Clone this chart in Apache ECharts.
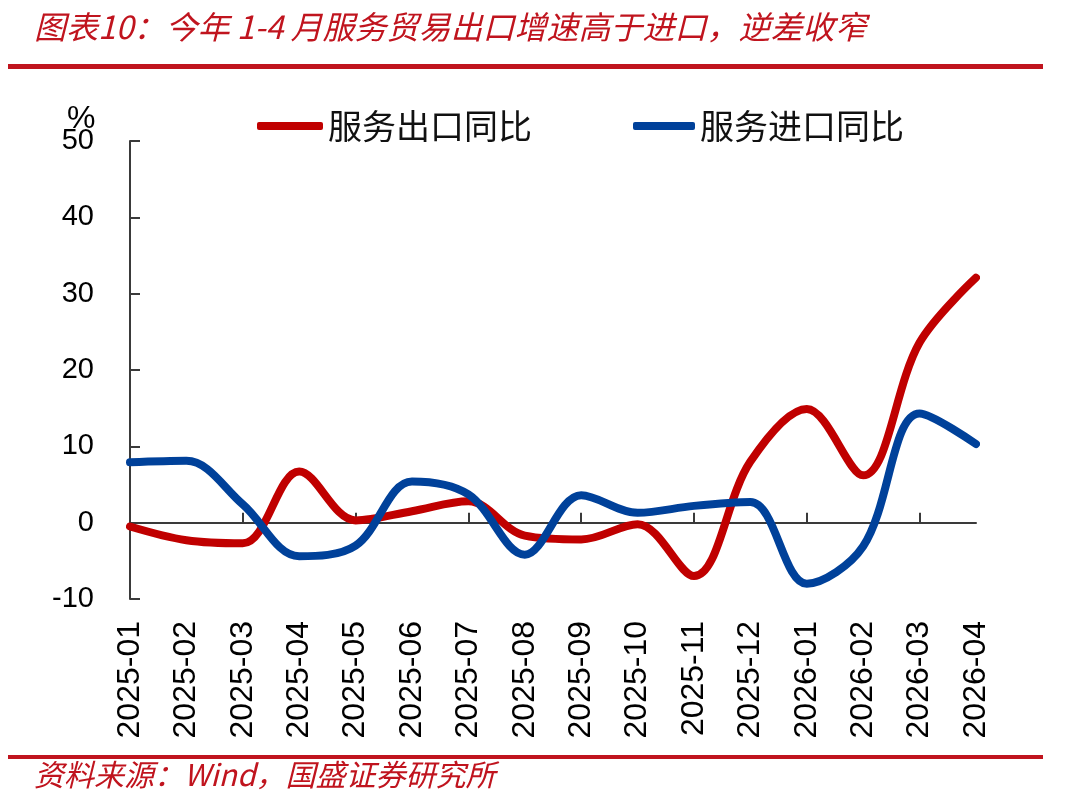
<!DOCTYPE html>
<html>
<head>
<meta charset="utf-8">
<script src="https://cdn.jsdelivr.net/npm/echarts@6/dist/echarts.min.js"></script>
<style>
  html, body { margin: 0; padding: 0; background: #fff; }
  #chart { width: 1080px; height: 810px; }
</style>
</head>
<body>
<div id="chart"></div>
<script>
const months = ['2025-01', '2025-02', '2025-03', '2025-04', '2025-05', '2025-06', '2025-07', '2025-08',
  '2025-09', '2025-10', '2025-11', '2025-12', '2026-01', '2026-02', '2026-03', '2026-04']
// 服务出口同比, %
const exportYoY = [-0.5, -2.3, -2.7, 6.7, 0.3, 1.5, 2.8, -1.7, -2.2, -0.2, -7.0, 8.0, 14.9, 6.2, 23.6, 32.1]
// 服务进口同比, %
const importYoY = [7.9, 8.1, 2.4, -4.4, -3.0, 5.4, 3.7, -4.2, 3.6, 1.3, 2.2, 2.7, -8.0, -3.1, 14.3, 10.3]

const titleText = '图表10：今年 1-4 月服务贸易出口增速高于进口，逆差收窄'
const sourceText = '资料来源：Wind，国盛证券研究所'

const red = '#C00000'
const blue = '#00419A'
const brand = '#C0141E'
const cjk = '"Noto Sans CJK SC", sans-serif'
const num = '"Liberation Sans", Arial, sans-serif'
const axisColor = '#3a3a3a'

const chart = echarts.init(document.getElementById('chart'))

const option = {
  animation: false,
  backgroundColor: '#fff',
  grid: {
    left: 130,
    right: 104,
    top: 141,
    bottom: 211,
    containLabel: false
  },
  legend: [
    {
      data: ['服务出口同比'],
      left: 252,
      top: 104,
      icon: 'roundRect',
      itemWidth: 66,
      itemHeight: 8,
      textStyle: { fontFamily: cjk, fontSize: 34, color: '#111' }
    },
    {
      data: ['服务进口同比'],
      left: 628,
      top: 104,
      icon: 'roundRect',
      itemWidth: 62,
      itemHeight: 8,
      textStyle: { fontFamily: cjk, fontSize: 34, color: '#111' }
    }
  ],
  xAxis: [
    {
      // labels along the bottom
      type: 'category',
      data: months,
      boundaryGap: false,
      position: 'bottom',
      axisLine: { show: false, onZero: false },
      axisTick: { show: false },
      axisLabel: {
        rotate: 90,
        margin: 22,
        fontFamily: num,
        fontSize: 32,
        color: '#000'
      }
    },
    {
      // axis line at zero with inward ticks
      type: 'category',
      data: months,
      boundaryGap: false,
      position: 'bottom',
      axisLine: { show: true, onZero: true, lineStyle: { color: axisColor, width: 2 } },
      axisTick: { show: true, inside: true, length: 10, lineStyle: { color: axisColor, width: 2 } },
      axisLabel: { show: false }
    }
  ],
  yAxis: {
    type: 'value',
    min: -10,
    max: 50,
    interval: 10,
    axisLine: { show: true, lineStyle: { color: axisColor, width: 2 } },
    axisTick: { show: true, inside: true, length: 10, lineStyle: { color: axisColor, width: 2 } },
    splitLine: { show: false },
    axisLabel: {
      margin: 36,
      fontFamily: num,
      fontSize: 29,
      color: '#000'
    }
  },
  series: [
    {
      name: '服务出口同比',
      type: 'line',
      data: exportYoY,
      smooth: 0.35,
      symbol: 'none',
      color: red,
      lineStyle: { width: 8, color: red, cap: 'round' },
      z: 3
    },
    {
      name: '服务进口同比',
      type: 'line',
      data: importYoY,
      smooth: 0.35,
      symbol: 'none',
      color: blue,
      lineStyle: { width: 8, color: blue, cap: 'round' },
      z: 4
    }
  ],
  graphic: [
    {
      type: 'text',
      left: 34,
      top: 11,
      style: {
        text: titleText,
        fill: brand,
        font: 'italic 32px ' + cjk
      }
    },
    {
      type: 'rect',
      shape: { x: 8, y: 64, width: 1035, height: 5 },
      style: { fill: brand }
    },
    {
      type: 'text',
      left: 67,
      top: 103,
      style: {
        text: '%',
        fill: '#000',
        font: '32px ' + num
      }
    },
    {
      type: 'rect',
      shape: { x: 8, y: 755, width: 1035, height: 4 },
      style: { fill: brand }
    },
    {
      type: 'text',
      left: 34,
      top: 760,
      style: {
        text: sourceText,
        fill: brand,
        font: 'italic 30px ' + cjk
      }
    }
  ]
}

chart.setOption(option)
</script>
</body>
</html>
